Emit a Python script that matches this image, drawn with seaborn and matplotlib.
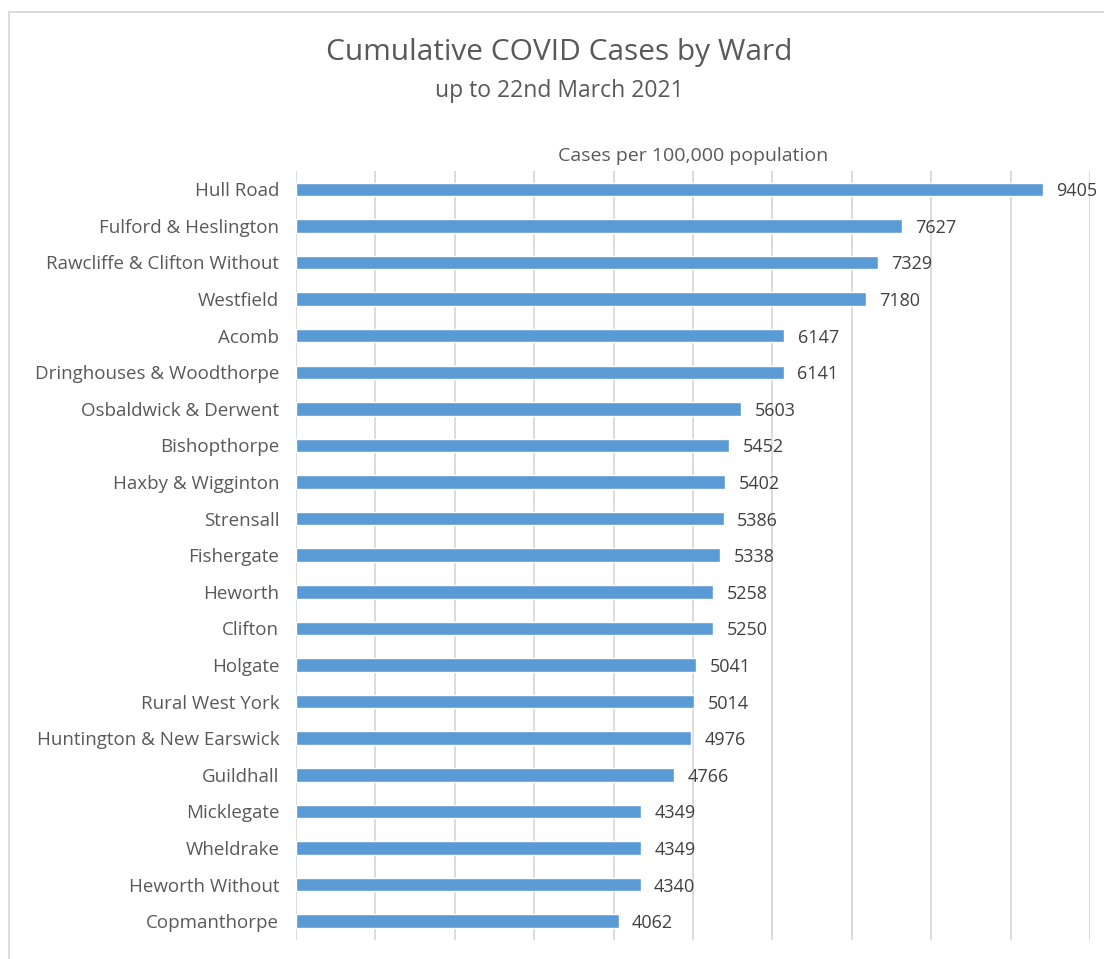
import matplotlib
matplotlib.use("Agg")
import matplotlib.pyplot as plt
import seaborn as sns
import pandas as pd
from matplotlib.patches import Rectangle

wards = [
    "Hull Road", "Fulford & Heslington", "Rawcliffe & Clifton Without",
    "Westfield", "Acomb", "Dringhouses & Woodthorpe", "Osbaldwick & Derwent",
    "Bishopthorpe", "Haxby & Wigginton", "Strensall", "Fishergate", "Heworth",
    "Clifton", "Holgate", "Rural West York", "Huntington & New Earswick",
    "Guildhall", "Micklegate", "Wheldrake", "Heworth Without", "Copmanthorpe",
]
cases_per_100k = [
    9405, 7627, 7329, 7180, 6147, 6141, 5603, 5452, 5402, 5386, 5338,
    5258, 5250, 5041, 5014, 4976, 4766, 4349, 4349, 4340, 4062,
]

df = pd.DataFrame({"ward": wards, "cases": cases_per_100k})

sns.set_theme(style="white")
plt.rcParams["font.family"] = ["Open Sans", "DejaVu Sans"]

BAR = "#5b9bd5"
GRID = "#d9d9d9"
TXT = "#595959"

fig = plt.figure(figsize=(11.04, 9.59), dpi=100)
ax = fig.add_axes([0.2681, 0.0203, 0.7192, 0.8014])

sns.barplot(data=df, x="cases", y="ward", orient="h", color=BAR,
            width=0.37, saturation=1, ax=ax, zorder=3)

ax.set_xlim(0, 10000)
ax.set_ylim(len(wards) - 0.5, -0.5)
ax.set_xticks(range(0, 10001, 1000))
ax.set_xticklabels([])
ax.tick_params(axis="x", length=0)
ax.tick_params(axis="y", length=0, pad=12, labelsize=13.5, labelcolor=TXT)
for lbl in ax.get_yticklabels():
    lbl.set_verticalalignment("center_baseline")
ax.grid(axis="x", color=GRID, linewidth=1.3, zorder=0)
ax.grid(axis="y", visible=False)
for s in ax.spines.values():
    s.set_visible(False)
ax.set_ylabel("")
ax.set_xlabel("Cases per 100,000 population", fontsize=14, color=TXT, labelpad=7)
ax.xaxis.set_label_position("top")

for i, v in enumerate(cases_per_100k):
    ax.text(v + 170, i, f"{v}", va="center_baseline", ha="left", fontsize=13,
            color="#404040", zorder=4)

fig.text(0.507, 0.945, "Cumulative COVID Cases by Ward", ha="center",
         va="center", fontsize=21.5, color=TXT)
fig.text(0.507, 0.905, "up to 22nd March 2021", ha="center", va="center",
         fontsize=16.5, color=TXT)

# chart area frame
fig.patches.append(Rectangle((9 / 1104, -0.1), 1.2, 1.1 - 12 / 959,
                             transform=fig.transFigure, fill=False,
                             edgecolor=GRID, linewidth=1.3))

fig.savefig("out.png", dpi=100, facecolor="white")
